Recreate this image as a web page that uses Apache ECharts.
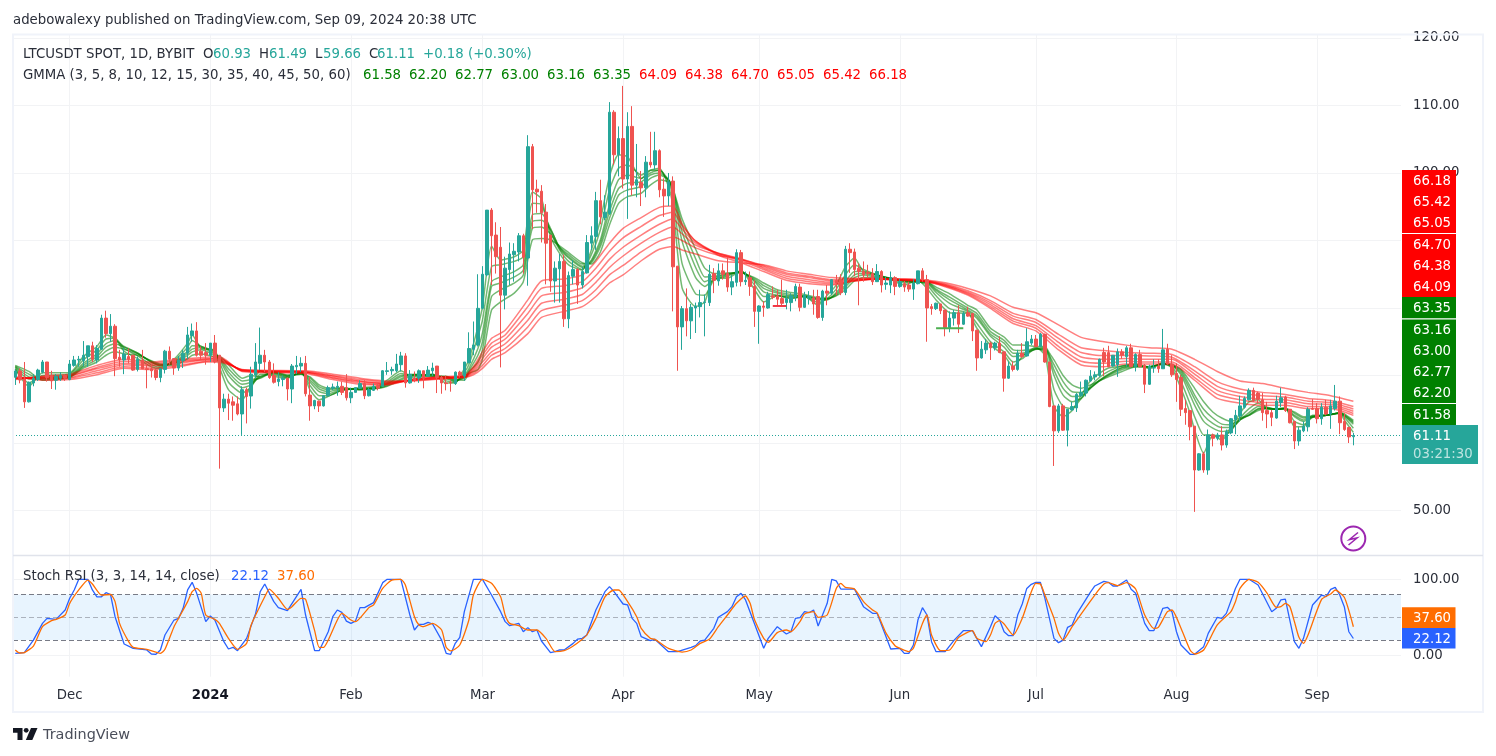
<!DOCTYPE html>
<html>
<head>
<meta charset="utf-8">
<title>LTCUSDT daily with GMMA and Stoch RSI</title>
<script src="https://cdn.jsdelivr.net/npm/echarts@6/dist/echarts.min.js"></script>
<style>
html,body{margin:0;padding:0;background:#fff}
#chart{width:1496px;height:756px}
</style>
</head>
<body>
<div id="chart"></div>
<script>
// Day labels run from 19 Nov 2023; the last traded day is index 295, the rest is empty space on the right.
const dayCount = 306;
const tickDays = [12, 43, 74, 103, 134, 164, 195, 225, 256, 287];
const tickLabels = ['Dec', '2024', 'Feb', 'Mar', 'Apr', 'May', 'Jun', 'Jul', 'Aug', 'Sep'];
const priceTicks = [50, 60, 70, 80, 90, 100, 110, 120];
const stochTicks = [0, 100];

// Daily candles: open, close, low, high
const candles = [
[69.73,70.67,68.6,70.91],[70.67,69.33,68.84,71.06],[69.5,66.1,65.2,72],[66.1,69,66,69.1],[68.9,69.6,68.4,70.2],
[69.4,70.8,69.2,71],[70.5,72,70.3,72.3],[72,69.7,69.1,72],[70,69.2,68,70.7],[69.3,69.9,67.9,70.2],
[69.6,70,69.2,70.5],[70,69.6,69.2,70.2],[69.4,71.7,69.3,72.3],[71.5,72.3,71.3,72.9],[72.3,72.4,71.3,72.9],
[72.2,73,71.3,75.1],[72.8,74.4,71.3,74.4],[74.4,72.4,72,75],[72.3,74,71.8,74.5],[73.9,78.5,73.8,79],
[78.5,76.2,75.6,79.6],[76.2,77.3,75,79.1],[77.3,72.5,69.9,77.6],[72.7,72.3,71.3,73.8],[72.3,73.2,70.2,74.1],
[72.8,72.4,71.8,74],[73,70.8,70.7,73],[70.9,72.4,70.6,72.8],[72.3,71,71,73.8],[71,70.9,68.1,71.8],
[71,70.7,69.7,71.8],[70.8,69.7,69.3,71],[69.7,71,69,71],[70.9,73.6,70.3,73.8],[73.6,72.4,71.6,74.3],
[72.5,71.1,70.1,72.5],[71.1,72.3,70.7,72.9],[72.2,73.3,71.1,73.8],[73.3,76,72.4,77.2],[75.9,76.6,75,77.7],
[76.6,73,72.8,77.9],[73.6,73,72.4,74.3],[73.4,73,71.6,74.8],[73,74.8,72,74.8],[74.8,72,71.8,76],
[73,65.2,56.2,73],[65.2,66.5,64.6,67.3],[66.5,65.9,63.4,67.3],[66.1,65.6,63.3,66.9],[65.8,64.3,64.1,66.9],
[64.3,67.9,61.2,68.4],[67.9,66.9,62.9,68.2],[66.96,70.2,65.1,71.3],[70.07,72,69.6,74.8],[71.8,73,70.8,77.1],
[73,72,70.5,73.8],[72,69.7,69.5,72.3],[70,69,68.8,71.8],[69.1,69.5,68.4,70.5],[69.4,69.6,68.4,70],
[69.6,68,66.3,69.7],[68,71.4,65.9,71.7],[71.3,71.5,70.2,72.9],[71.4,71.8,70.5,72.7],[71.8,67.3,66.9,72.9],
[67.1,65.5,63.3,69.8],[65.5,66.3,65,66.4],[66.2,65.5,64.6,66.3],[65.5,67,65.4,67.1],[67,68.2,66.9,68.5],
[68.1,68.3,67.8,68.8],[68.2,68.4,67,69.1],[68.4,67.5,67.1,69.1],[68.2,66.7,66.3,70.2],[66.7,67.5,65.9,68.2],
[67.5,68.2,67.5,68.2],[68.1,68.8,68,69.3],[68.8,67,66.5,69.3],[67,67.9,66.9,68.2],[67.8,68.4,67.7,68.8],
[68.5,68.1,67.8,68.9],[68.4,70.7,68.3,70.8],[70.6,70.7,70.1,72],[70.7,70.9,70.1,71.3],[70.7,71.7,70.5,73.2],
[71.6,72.9,70.6,73.5],[72.9,68.9,68.2,73.3],[68.9,70.2,68.8,70.8],[69.6,69.3,69,70.6],[69.6,70.7,68.9,70.9],
[70.7,69.6,68.1,70.7],[69.9,70.8,69.8,71.4],[70.7,71.1,69.9,71.9],[71.4,69.7,67.4,71.4],[69.7,68.9,67.3,70],
[68.9,68.8,67.8,70],[69,68.9,67.6,69.3],[68.8,70.5,68.6,70.6],[70.5,70,69.7,70.7],[69.9,72,69.2,72],
[71.9,74,71.8,76.4],[73.9,74.5,73,78],[74.5,79.95,74.3,85],[79.95,85,79.8,86.2],[84.9,94.5,84.7,94.5],
[94.5,90.7,83.4,94.8],[90.8,87.6,85.1,92.7],[89,81.9,71.2,92],[81.9,85.9,79.8,87.6],[85.7,88,83.4,89.7],
[87.9,88.4,83.9,89.6],[88.3,90.7,86.9,91.1],[90.7,87.5,85.1,91],[87.4,103.9,83.3,105.6],[103.9,97.5,91.7,104.3],
[97.6,97.2,94.1,99],[97.3,94.1,89.7,98.2],[94.2,89.6,83.5,95.4],[90.8,84,82.4,90.8],[84,85.9,80.8,86.9],
[85.8,86.9,80.8,88],[86.9,78.4,77.2,87.9],[78.4,84.8,77,85.4],[84.7,85.7,83.5,87.1],[85.7,83.4,80.6,85.9],
[83.4,85.4,82.9,86.1],[85.2,89.7,85.1,90.8],[89.6,90.7,88.6,92.1],[90.6,95.9,88.6,97.2],[95.9,93.5,92.4,99],
[93.4,94.2,93,96.7],[94,109,93.8,110.5],[109,102.7,101.2,109.3],[102.7,105.1,99.5,106.9],[105.1,99.1,97.7,112.9],
[99.1,106.9,93.2,109],[106.9,98.2,96.7,109.9],[98.2,99,96.4,104.3],[98.6,97.8,95.1,100.3],[97.8,101.6,96.4,102.5],
[101.6,101.2,100.8,106.1],[101.2,103.3,100.5,106.1],[103.3,97.5,96.4,103.5],[97.6,96.6,93.5,99.2],[96.6,98.7,95.1,100],
[98.8,86.1,79.5,99.5],[86.2,77.2,70.7,86.2],[77.2,79.9,73.8,80.3],[79.9,78.1,75.8,82.9],[78.1,80.1,75.4,80.6],
[80,80.3,76.3,80.8],[80.2,80.8,78.6,82.7],[80.8,80.9,75.8,82],[80.8,85,80.3,86.4],[85.1,84.1,82.2,85.9],
[84,85.5,83.3,86.6],[85.5,85,84.2,86.6],[85.1,83.1,82.4,87.6],[83.1,83.9,81.9,84.9],[83.8,88.2,83.2,88.7],
[88.2,83.9,83.2,88.6],[83.9,84.1,83.4,85.4],[84.5,83.2,81.8,85.4],[83.2,79.5,77.2,84.1],[79.5,80.3,74.7,80.4],
[80.3,80.1,78.7,81],[80,82,79.9,82.4],[81.8,81.6,81.3,83.2],[81.8,81.3,80.4,82.7],[81.4,80.7,80.3,84.2],
[80.8,81.4,79.8,82.7],[80.8,81.8,79.5,82.2],[81.7,83.2,81,83.6],[83.1,80.1,79.5,83.6],[80.1,81.9,80,82.4],
[81.5,81.7,80.5,82.5],[81.5,80.6,79,82.7],[81.7,78.6,78.4,82.7],[78.6,82.5,78.1,82.7],[82.5,82.2,80.4,83.4],
[82.2,84.2,81.9,84.3],[84.1,83.7,81.9,84.9],[84.1,82.3,81.9,85],[82.3,88.7,81.9,89.2],[88.7,88.2,85.2,89.6],
[88.3,85.7,84.7,88.8],[85.9,85.4,80.4,86.6],[85.4,84.9,83.9,86.9],[85.3,85.1,84.5,86.4],[85.1,83.9,83.4,85.9],
[83.9,85.4,83.9,86.5],[85.4,83.4,82.3,85.6],[83.5,83.7,82.7,84.6],[83.4,84.5,82.2,85.4],[84.5,83.2,81.9,84.7],
[83.2,83.9,83,84.3],[83.6,83.1,82.4,84],[83.4,82.8,82.4,83.9],[82.8,83.7,81.2,84.3],[83.6,85.5,83.5,85.5],
[85.5,84.2,83.9,85.9],[84.2,80,75,84.9],[80.2,79.9,79,80.6],[79.9,80.7,79.7,80.8],[80.6,79.6,79.1,80.6],
[79.7,77.1,75.8,79.7],[77.1,78.5,76.4,79.5],[78.5,79.3,77.4,79.7],[79.3,77.6,76.3,80.4],[77.6,79.2,77.5,79.5],
[79.3,78.8,78.7,80.2],[79.2,76.6,75.1,79.2],[76.7,72.6,70.7,76.8],[72.6,73.9,72.5,75.1],[73.8,74.8,73.2,75.4],
[74.8,74.1,72.3,75],[74.1,74.8,73.7,75],[74.8,73.4,73.3,75.8],[73.5,69.6,67.6,73.5],[69.6,71.4,69.5,72.1],
[71.4,70.9,70.6,72.1],[70.9,73.3,70.7,73.8],[73.3,72.8,72.6,74.8],[72.9,75,72.8,77],[74.8,75.4,74.5,76],
[75.4,74.3,74.2,76],[74.3,76.1,74.2,76.3],[76.1,72,71.9,76.2],[72,65.4,65.3,72],[65.5,61.8,56.6,65.5],
[61.8,65.5,61.5,65.8],[65.5,61.9,61.8,65.8],[61.9,65,59.5,65],[64.9,65.4,64.8,66.1],[65.2,67.2,64.6,67.4],
[67,67.5,66.9,69.1],[67.4,69.3,66.9,69.4],[69.2,69.9,69.1,70.8],[69.8,70.1,69.3,70.6],[70,72.4,69.8,72.5],
[73.4,72,69.9,74.1],[73.4,71.3,71.2,74.4],[71.4,73,71.3,73],[71.6,73.5,69.8,74],[73.5,73,72.5,73.9],
[72.8,74.1,71.3,74.4],[74.1,71.3,71.2,74.7],[71.3,73.1,70.6,73.3],[73.1,71.3,71.2,73.8],[71.5,68.7,67.4,71.7],
[68.7,71.4,68.6,71.6],[71.1,71.2,70.4,72.4],[71.4,71,70.4,72.4],[71,73.8,71,76.9],[73.9,71.7,71.6,74.7],
[71.7,70.1,69.8,73],[70.3,69.4,66.1,71.8],[69.7,65,64,70.1],[65.1,64.5,62.7,66.4],[64.8,62.4,60.4,64.8],
[62.5,56,49.8,62.5],[56,58.4,55.9,58.5],[58.4,56,55.6,58.7],[56,61.2,55.3,62],[61.2,60.7,59.5,61.4],
[60.7,61.2,60.4,61.5],[61.2,59.7,58.9,62.5],[59.7,61.7,59.3,62],[61.5,63.6,61.3,63.7],[63.5,64.1,61.3,64.9],
[64,65.5,63.2,67],[65.3,66.6,65.1,66.9],[66.4,67.8,66.3,68.1],[67.8,66.3,66.1,68.2],[67.4,66.5,65.8,67.6],
[66.4,64.5,63.3,67.4],[64.8,64.3,62.2,66.1],[64.5,63.8,62.5,64.9],[63.7,66.2,63.6,67],[66,66.7,65.3,68.2],
[66.8,64.8,64.6,67],[65,63,62.9,65],[63.2,60.3,59.1,63.2],[60.3,61.9,59.6,62.4],[61.8,62.5,61.6,63.2],
[62.4,65,61.7,65.3],[65.1,65,64.9,66.5],[65.1,63.6,62.9,65.9],[63.6,65.3,62.7,65.9],[65.3,64.3,64.1,66.4],
[64.3,65.5,62.1,66.4],[65.1,66.2,64.8,68.6],[66.2,63,61.3,66.9],[63.2,62,61.8,64.4],[62.3,60.9,60,62.4],
[60.93,61.11,59.66,61.49]
];

// Guppy fast bundle, read at the days listed in fastDays
const fastDays = [0,3,6,12,15,18,20,22,24,27,30,32,35,38,39,41,44,45,47,50,52,54,57,60,63,65,67,69,72,76,80,82,85,88,92,95,97,99,100,102,103,105,107,110,112,114,116,118,120,122,125,127,129,131,133,135,138,140,142,144,145,147,150,152,154,157,160,163,165,168,171,174,177,179,181,183,185,187,190,193,196,199,201,203,206,210,212,215,218,220,222,225,227,228,229,231,233,235,237,239,241,244,247,250,253,255,257,259,260,262,264,266,268,270,272,274,276,278,280,282,284,286,289,292,293,295];
const ema3 = [70.9,68.4,70.4,70.4,72.8,74.3,76,75.5,73.6,72.5,71.3,71,72.4,74.8,76,74,73.8,71.3,67.9,66.4,68.4,70.7,69.9,69.6,70.6,67.85,66.4,66.9,67.8,68.2,68.4,69.3,70.7,69.6,70.2,68.9,68.9,71,72.3,77.2,80.2,89.2,87.1,87.6,88.6,97.2,96.2,90.6,88.1,86.4,85.6,88.6,93,99.5,102.7,102.4,99.2,100.4,100.7,98,95,83,80.2,80.9,84.4,84.4,85.5,82.7,80.9,81.8,81.4,81.7,80.4,81.9,83.4,86.1,87.4,85.4,84.9,84.2,83.4,84.1,82.9,81.2,79.3,79.2,77,74.5,73,71.3,72.8,74.2,73,69.3,65.4,63.9,64.8,67.1,69.2,70.3,71.1,71.4,71.7,71,71.9,71.06,68.1,64.4,61.9,58.5,61.2,60.4,62.2,64.4,66.1,66.4,65,65,65.3,62.4,62.4,64.1,64.1,64.4,63.4,61.58];
const ema5 = [71,68.9,70,70.2,72.3,73.8,75.4,75.5,74,72.9,71.6,71.2,72.2,74.2,75.2,74.3,73.6,72,69,67.4,68.3,70.2,70.1,69.7,70.5,68.5,67,67,67.8,68.1,68.3,69,70.3,69.9,70.2,69.2,69,70.5,71.6,75.8,78.2,86.1,86.4,86.9,87.6,95.5,95.3,91.3,88.6,86.9,85.7,87.9,91.6,97.5,100.7,101.2,99.7,100.4,100.4,98.7,96.5,86.6,82.1,81.9,84.1,84.7,85.5,83.4,81.7,81.8,81.5,81.7,80.8,81.4,82.8,84.9,86.4,85.7,84.9,84.3,83.7,83.9,83.4,81.8,79.9,79.3,77.7,75,73.5,72,72.5,74,73.5,71.1,67.9,65.4,65.1,66.6,68.4,69.7,70.6,71.4,71.6,71.2,71.7,71.3,69.1,65.8,63.9,61.2,61.2,60.9,61.8,63.7,65.1,65.9,65.3,65,65.1,63.2,62.7,63.8,64.1,64.4,63.8,62.20];
const ema8 = [71.2,69.5,69.7,70,71.8,73.2,74.7,75.2,74.3,73.3,72,71.4,72,73.6,74.4,74.3,73.4,72.4,70,68.2,68.6,69.9,70.3,69.8,70.4,69,67.6,67.3,67.9,68,68.2,68.8,70,70.1,70.1,69.5,69.1,70.1,71,74,76.3,83.9,84.6,85.4,86.4,93.8,94,91.8,88.8,87.4,86,87.1,90.1,95.3,99,99.7,99.2,100,100.4,99,97.2,89.9,84.5,83.2,84.2,84.9,85.4,83.9,82.4,81.9,81.7,81.7,81.2,81.2,82.3,83.9,85.4,85.4,84.9,84.4,83.9,83.9,83.7,82.3,80.7,79.5,78.5,75.8,74.2,72.8,73,73.9,73.9,72.3,70,67.1,66.1,66.6,68.1,69.3,70.2,71.2,71.5,71.3,71.7,71.5,70.1,67.1,65.6,63.2,62.2,61.7,62,63.4,64.5,65.4,65.2,65,65.1,63.9,63.2,63.8,64.1,64.4,64,62.77];
const ema10 = [71.3,69.8,69.6,69.9,71.5,72.8,74.2,74.7,74.2,73.3,72,71.5,71.8,73.3,73.9,74.1,73.2,72.6,70.5,68.7,69,69.7,70.4,69.9,70.3,69.3,68,67.6,68,68,68.2,68.7,69.8,70.2,70,69.7,69.2,69.8,70.7,73,75,83.2,83.7,84.6,85.6,92.8,93,91.6,89,87.6,86.2,86.9,89.6,94.3,97.7,98.5,98.7,99.7,100,99,97.5,91.3,86,83.9,84.5,85,85.3,84.1,82.9,82.2,81.8,81.8,81.3,81.3,82.1,83.4,84.9,85.1,84.8,84.4,84,83.9,83.8,82.6,81.2,79.7,78.8,76.1,74.8,73.3,73.3,73.9,74,72.8,70.8,68.1,66.9,67,68.1,69.2,70.1,71.1,71.4,71.3,71.7,71.55,70.4,67.85,66.5,64.1,62.9,62.3,62.3,63.4,64.2,65.1,65.2,65,65.1,64.1,63.4,63.9,64.1,64.5,64.1,63.00];
const ema12 = [71.4,70.2,69.4,69.8,71.3,72.4,73.6,74.2,73.9,73.2,72.1,71.6,71.7,73,73.5,73.8,73,72.7,71,69.2,69.4,69.6,70.5,70,70.2,69.6,68.3,67.9,68.1,67.9,68.1,68.5,69.5,70.1,69.9,69.8,69.3,69.6,70.5,72,73.8,81.7,82.7,83.7,84.9,91.8,92,91,89,87.9,86.5,86.7,89.1,93.3,96.7,97.5,98,99.2,99.7,99,97.7,92.3,87.3,84.6,84.7,85.1,85.3,84.3,83.3,82.4,82,81.8,81.4,81.4,81.9,83.1,84.5,84.9,84.6,84.4,84,83.9,83.9,82.8,81.6,80,79.2,76.5,75.2,73.8,73.7,74,74.2,73,71.6,69.1,67.6,67.5,68.2,69.2,70,70.9,71.3,71.3,71.7,71.55,70.7,68.4,67.1,65,63.7,62.8,62.7,63.5,64.1,65,65.1,65,65.1,64.4,63.7,63.9,64.1,64.5,64.2,63.16];
const ema15 = [71.5,70.6,69.3,69.7,71.1,72,73,73.5,73.2,73,72.2,71.7,71.5,72.5,73,73.2,72.8,72.8,71.6,69.6,70,69.8,70.6,70.07,70.2,69.8,68.6,68.1,68.2,67.9,68.1,68.4,69.3,70,69.85,69.9,69.4,69.3,70.3,70.9,72.4,79.7,80.9,82.2,83.9,90.1,90.3,90.1,89.2,88.2,86.7,86.5,88.3,92.3,95.5,96.5,97,98.2,99,98.7,97.7,93.2,88.7,85.9,85.1,85.2,85.2,84.5,83.7,82.7,82.3,82,81.5,81.4,81.8,82.7,84,84.5,84.5,84.4,84.1,84,83.9,83.1,82.1,80.4,79.7,77,75.7,74.5,74.5,74.3,74.3,73.3,72.3,70,68.6,68.1,68.6,69.2,69.8,70.6,71.3,71.3,71.65,71.55,70.9,69.1,68.1,66.1,64.6,63.7,63.2,63.7,64.1,64.8,65.1,65,65.1,64.6,63.9,64,64.1,64.5,64.3,63.35];

// Guppy slow bundle, read at the days listed in slowDays
const slowDays = [0,6,12,18,24,30,36,42,45,50,64,70,76,82,88,94,99,101,103,105,108,113,116,121,125,128,131,134,138,142,145,147,150,155,160,165,170,175,180,185,190,195,200,205,210,215,220,225,230,235,240,245,250,255,260,265,270,275,280,285,290,295];
const ema30 = [69.4,69.9,70.2,71.5,72.4,72,72.4,72.7,72.8,70.6,70.3,69.4,68.7,68.6,69.5,69.83,70,71.3,73.5,75.5,76.7,81.2,84,84.3,84.9,86.9,89.6,91.8,93.4,94.9,95.1,92.5,89.9,87.8,86.7,85.4,84.1,83.6,83.4,84,84.3,84.1,84,83.16,81.9,79.95,77.7,76.6,73.8,71.55,71.3,71.7,71.7,71.7,69.3,66.6,65.9,65.6,65.6,65.1,65.1,64.09];
const ema35 = [69.5,69.8,70,71.2,72.1,71.8,72.2,72.5,72.6,70.7,70.4,69.6,68.9,68.7,69.45,69.75,69.9,71.05,73,74.8,76,80.2,82.9,83.3,83.9,85.9,88.4,90.4,92.1,93.7,94.2,92.2,89.9,88,87,85.7,84.4,83.9,83.6,84,84.3,84.1,84,83.25,82.05,80.2,78.05,77,74.3,72.1,71.8,72.1,72,72,69.7,67.2,66.4,66,66,65.4,65.4,64.38];
const ema40 = [69.55,69.7,69.9,71,71.8,71.6,72,72.4,72.5,70.7,70.5,69.7,69.1,68.8,69.4,69.7,69.85,70.8,72.5,74.2,75.4,79.2,81.8,82.3,83,84.8,87.2,89,90.8,92.4,93.2,91.7,89.6,88.1,87.2,85.9,84.7,84.2,83.8,84.1,84.3,84.2,84,83.35,82.2,80.5,78.4,77.4,74.9,72.75,72.4,72.5,72.4,72.4,70.2,67.8,66.9,66.5,66.4,65.8,65.7,64.70];
const ema45 = [69.6,69.6,69.7,70.7,71.6,71.4,71.8,72.3,72.3,70.8,70.5,69.9,69.2,68.9,69.35,69.6,69.8,70.55,72,73.5,74.7,78.2,80.7,81.3,82,83.8,86,87.7,89.6,91.2,92,91,89.3,88.1,87.3,86.1,85,84.5,84,84.2,84.3,84.2,84.1,83.45,82.35,80.8,78.8,77.85,75.5,73.4,72.95,73,72.9,72.7,70.7,68.4,67.4,67,66.8,66.2,66,65.05];
const ema50 = [69.7,69.5,69.6,70.4,71.3,71.1,71.5,72.1,72.2,70.85,70.6,70,69.4,69.05,69.3,69.55,69.75,70.3,71.5,73,74,77.2,79.6,80.4,81.1,82.7,84.9,86.3,88.3,89.9,90.5,90,88.9,87.8,87.2,86.3,85.2,84.7,84.2,84.3,84.3,84.3,84.1,83.55,82.55,81.1,79.2,78.3,76.1,74.1,73.7,73.4,73.3,73.1,71.3,69.1,68,67.5,67.2,66.6,66.3,65.42];
const ema60 = [69.8,69.3,69.4,70.1,71.06,70.9,71.3,72,72,70.9,70.7,70.2,69.6,69.2,69.2,69.5,69.7,70.1,71.06,72.4,73.4,76.2,78.6,79.5,80.2,81.7,83.7,84.9,87,88.7,89.1,88.6,88,87,86.7,86.4,85.5,85,84.5,84.4,84.4,84.3,84.2,83.75,82.9,81.8,80.1,79.3,77.5,75.65,75,74.5,74.1,73.9,72.4,70.6,69.2,68.8,68.1,67.5,67,66.18];

// Stoch RSI %K and %D, read at their turning days
const stochKDays = [0,2,4,6,7,9,11,12,13,14,16,17,18,19,20,21,22,24,26,29,30,31,32,33,35,36,37,38,39,40,42,43,44,46,47,48,49,51,53,54,55,57,58,60,63,64,66,67,69,70,71,72,73,74,75,76,77,79,81,82,85,87,88,89,90,91,92,94,95,96,97,98,99,101,103,105,107,108,109,111,112,113,114,115,116,118,119,120,121,123,124,125,126,128,130,131,132,134,135,136,137,138,140,141,144,146,149,150,151,152,154,155,157,158,159,160,161,165,166,168,170,171,172,173,174,175,176,177,179,180,181,182,185,187,189,190,193,195,196,197,198,199,200,201,202,203,205,207,209,211,213,215,216,217,218,219,220,221,222,223,224,225,226,227,229,230,231,232,233,234,237,238,240,241,242,243,245,246,247,249,250,251,252,253,254,255,256,257,259,260,262,263,265,266,267,269,270,272,274,277,278,279,280,282,283,284,286,288,289,290,291,292,293,294,295];
const stochK = [2.6,3.5,20,42,48.6,47.3,59.6,75,86,100,100,86,77,77,82.4,80,50.8,14.9,9.2,7,1.7,1.3,7,26.7,46.4,48.6,61.8,86,96,81.5,44.3,51.7,46.4,17.9,8.3,10.5,6.1,22.3,55.2,83.7,93.8,70.6,62.7,58.7,86.8,53,6.1,6.1,31,50.8,59.6,56.5,45,42,45,62.7,62.7,69.3,95.6,100,100,53,33.3,40.7,40.7,43.4,41.2,20,2.6,1.3,15.7,23.6,57.4,100,100,79.3,57.4,44.3,39,42,31,36.4,31,33.3,18.8,3.5,4.8,7,7,15.7,21.4,22.3,26.7,59.6,83.7,90.3,83.7,67.5,66.2,48.6,42,24.5,19.3,21,4.8,4.8,10.5,12.7,18.8,20,35.5,50,57.4,64,77,81.5,72.8,9.2,22.3,37.7,28,31,48.6,49.5,57.4,56,59.6,38.6,68.4,100,98,87.2,87.2,64,55.2,55.2,8.3,9.2,2.6,2.6,13.5,46.4,62.7,53,17.9,4.8,4.8,20,32.4,32.4,11.4,37.7,52,46.4,31,25.8,25.8,53,67.5,88,93.4,96,96,75,22.3,16.6,20,36.8,39.9,54.3,82.9,91.2,97.3,96,91.2,91.2,99,86.8,81.5,42,32.4,32.4,46.4,61.8,63.1,57.4,31,13.6,1.3,1.3,11.4,28.9,50,48.6,55.2,88,100,100,92.5,57.4,61.8,72.8,74,18,9.2,22.3,66.2,79.3,77.1,86.8,89.4,79.3,64,31,22.12];
const stochDDays = [0,1,2,4,6,8,9,11,12,14,16,17,19,21,22,23,25,26,29,32,33,35,36,38,39,40,41,42,44,45,47,49,51,52,55,56,58,60,61,63,64,66,67,68,69,71,72,74,75,78,79,81,83,85,86,88,89,90,92,94,95,96,98,100,101,103,105,107,108,109,111,113,115,117,119,121,123,125,126,128,130,132,133,135,137,138,140,141,144,147,149,151,153,155,157,159,161,162,163,165,166,168,170,171,173,174,176,177,179,181,182,183,185,187,189,190,192,194,195,197,198,200,201,202,204,206,208,211,212,214,215,216,217,218,220,222,224,225,226,227,229,230,231,233,238,240,241,243,245,247,249,251,252,254,255,257,259,260,262,265,268,269,270,272,274,276,278,279,280,281,282,283,284,285,288,290,291,293,295];
const stochD = [7,3,3.5,12.2,37.7,45.6,47.3,53,68.4,86,99,93.8,79.3,80,70.6,42,17.9,10.5,7.9,2.6,7.9,37.7,48.6,70.6,83.7,88,81.5,53,47.3,42,22.3,7.9,15.7,39.9,77,87.2,75,60.5,64,75,73.6,32.4,10.5,10.5,20,46.4,55.2,46.4,44.3,63,66.2,88,99,100,92.5,50.8,39.9,37.7,42,33.3,10.5,5.7,13.5,46.4,79.3,100,94.7,77,53,42,39,33.3,33.3,22.3,4.8,6.1,12.2,21,26.7,48.6,77,85.9,85.9,70.6,50.8,35.5,22.3,21,9.2,4.3,7,15.7,21,37.7,53,68.4,78,68.4,46.4,22.3,17,29.8,33.3,31,44.3,54.3,57.4,50,53,88,94.7,89.4,87.2,70.6,59.6,56,28.9,12.2,9.2,4.8,9.2,42,53,26.7,6.1,7,23.6,32.4,22.3,17.9,26.7,42,45.6,41.2,26.7,48.6,83.7,94.7,93.8,79.3,48.6,28.9,20,37.7,79.3,93.8,95.6,91.6,95.6,87.2,53,35.5,36.8,57.4,59.6,35.5,7,1.7,7,39.9,57.4,70.6,88,100,96,81.5,63.1,64,68.4,64,44.3,23.6,15.7,26.7,73.6,80.7,85.9,76.3,37.60];

// Hand-drawn level segments on the price pane
const redLevelDays = [167, 170];
const redLevel = [80.3, 80.3];
const greenLevelDays = [203, 209];
const greenLevel = [77, 77];

// Header and price tag readouts
const lastOHLC = ['60.93', '61.49', '59.66', '61.11'];
const lastChange = '+0.18 (+0.30%)';
const gmmaReadout = ['61.58','62.20','62.77','63.00','63.16','63.35','64.09','64.38','64.70','65.05','65.42','66.18'];
const lastClose = 61.11;
const countdown = '03:21:30';
const stochReadout = ['22.12', '37.60'];

const FONT = '"DejaVu Sans", sans-serif';
const FONT_SIZE = 13.3;
const INK = '#2a2e39';
const TEAL = '#26a69a';
const RED = '#ef5350';
const GREEN_TAG = '#008000';
const RED_TAG = '#ff0000';
const GRID_LINE = '#f2f3f5';

const days = [];
{
  const d = new Date(Date.UTC(2023, 10, 19));
  for (let i = 0; i < dayCount; i++) {
    days.push(d.toISOString().slice(0, 10));
    d.setUTCDate(d.getUTCDate() + 1);
  }
}
const isTick = (i) => tickDays.includes(i);
const pairs = (xs, ys) => xs.map((x, i) => [x, ys[i]]);

const bundleLine = (name, xs, ys, color) => ({
  name, type: 'line', xAxisIndex: 0, yAxisIndex: 0, data: pairs(xs, ys),
  showSymbol: false, symbol: 'none', silent: true, smooth: 0.2, z: 3,
  lineStyle: { color, width: 1.5 }
});
const FAST = 'rgba(0,128,0,0.55)';
const SLOW = 'rgba(255,0,0,0.5)';

const series = [
  bundleLine('EMA3', fastDays, ema3, FAST),
  bundleLine('EMA5', fastDays, ema5, FAST),
  bundleLine('EMA8', fastDays, ema8, FAST),
  bundleLine('EMA10', fastDays, ema10, FAST),
  bundleLine('EMA12', fastDays, ema12, FAST),
  bundleLine('EMA15', fastDays, ema15, FAST),
  bundleLine('EMA30', slowDays, ema30, SLOW),
  bundleLine('EMA35', slowDays, ema35, SLOW),
  bundleLine('EMA40', slowDays, ema40, SLOW),
  bundleLine('EMA45', slowDays, ema45, SLOW),
  bundleLine('EMA50', slowDays, ema50, SLOW),
  bundleLine('EMA60', slowDays, ema60, SLOW),
  {
    name: 'LTCUSDT', type: 'candlestick', xAxisIndex: 0, yAxisIndex: 0, data: candles,
    barWidth: 3, silent: true, z: 5,
    itemStyle: { color: TEAL, color0: RED, borderColor: TEAL, borderColor0: RED, borderColorDoji: TEAL, borderWidth: 1 },
    markLine: {
      silent: true, symbol: 'none', animation: false, label: { show: false }, z: 2,
      lineStyle: { color: TEAL, type: [1, 2], width: 1, opacity: 1 },
      data: [{ yAxis: lastClose }]
    }
  },
  {
    name: 'Red level', type: 'line', xAxisIndex: 0, yAxisIndex: 0, data: pairs(redLevelDays, redLevel),
    symbol: 'none', silent: true, z: 6, lineStyle: { color: '#f23645', width: 2 }
  },
  {
    name: 'Green level', type: 'line', xAxisIndex: 0, yAxisIndex: 0, data: pairs(greenLevelDays, greenLevel),
    symbol: 'none', silent: true, z: 6, lineStyle: { color: '#4caf50', width: 2 }
  },
  {
    name: '%K', type: 'line', xAxisIndex: 1, yAxisIndex: 1, data: pairs(stochKDays, stochK),
    symbol: 'none', silent: true, z: 4, lineStyle: { color: '#2962ff', width: 1.3 },
    markArea: {
      silent: true, animation: false, z: 1,
      itemStyle: { color: 'rgba(33,150,243,0.1)' },
      data: [[{ yAxis: 20 }, { yAxis: 80 }]]
    },
    markLine: {
      silent: true, symbol: 'none', animation: false, label: { show: false }, z: 2,
      lineStyle: { color: '#787b86', type: [5, 3], width: 1 },
      data: [
        { yAxis: 80 },
        { yAxis: 50, lineStyle: { color: 'rgba(120,123,134,0.55)', type: [5, 3], width: 1 } },
        { yAxis: 20 }
      ]
    }
  },
  {
    name: '%D', type: 'line', xAxisIndex: 1, yAxisIndex: 1, data: pairs(stochDDays, stochD),
    symbol: 'none', silent: true, z: 5, smooth: 0.2, lineStyle: { color: '#ff6d00', width: 1.3 }
  }
];

// Text and chrome placed around the panes
const text = (x, y, str, fill, size, weight, z) => ({
  type: 'text', silent: true, z: z || 20,
  style: { x, y: y + 1, text: str, fill, font: `${weight || 'normal'} ${size || FONT_SIZE}px ${FONT}`, textVerticalAlign: 'middle', textAlign: 'left' }
});
const box = (x, y, w, h, fill, z) => ({
  type: 'rect', silent: true, z: z || 30, shape: { x, y, width: w, height: h }, style: { fill }
});

const readoutX = [363, 409, 455, 501, 547, 593, 639, 685, 731, 777, 823, 869];
const tagCenters = [414.5, 393, 371.5, 350.5, 329.5, 307.5, 287, 266, 245, 223, 202, 181];

const graphics = [
  { type: 'rect', silent: true, z: 10, shape: { x: 13, y: 34.5, width: 1470, height: 677.5 }, style: { fill: 'none', stroke: '#f0f3fa', lineWidth: 2 } },
  { type: 'line', silent: true, z: 10, shape: { x1: 13, y1: 555.5, x2: 1483, y2: 555.5 }, style: { stroke: '#e0e3eb', lineWidth: 1.5 } },

  text(13, 20, 'adebowalexy published on TradingView.com, Sep 09, 2024 20:38 UTC', INK),
  text(23, 54, 'LTCUSDT SPOT, 1D, BYBIT', INK),
  text(203, 54, 'O', INK), text(213, 54, lastOHLC[0], TEAL),
  text(259, 54, 'H', INK), text(269, 54, lastOHLC[1], TEAL),
  text(315, 54, 'L', INK), text(323, 54, lastOHLC[2], TEAL),
  text(369, 54, 'C', INK), text(377, 54, lastOHLC[3], TEAL),
  text(423, 54, lastChange, TEAL),
  text(23, 75, 'GMMA (3, 5, 8, 10, 12, 15, 30, 35, 40, 45, 50, 60)', INK),
  ...gmmaReadout.map((v, i) => text(readoutX[i], 75, v, i < 6 ? GREEN_TAG : RED_TAG)),
  text(23, 576, 'Stoch RSI (3, 3, 14, 14, close)', INK),
  text(231, 576, stochReadout[0], '#2962ff'),
  text(277, 576, stochReadout[1], '#ff6d00'),

  // price tags stacked on the right axis
  box(1402, 170, 54, 63, RED_TAG), box(1402, 234, 54, 63, RED_TAG),
  box(1402, 297, 54, 21.3, GREEN_TAG), box(1402, 319.5, 54, 83.5, GREEN_TAG), box(1402, 404, 54, 21, GREEN_TAG),
  box(1402, 425, 76, 39, TEAL),
  ...gmmaReadout.map((v, i) => text(1413, tagCenters[i], v, '#ffffff', FONT_SIZE, 'normal', 31)),
  text(1413, 435.5, String(lastClose.toFixed(2)), '#ffffff', FONT_SIZE, 'normal', 31),
  text(1413, 454, countdown, 'rgba(255,255,255,0.7)', FONT_SIZE, 'normal', 31),
  box(1402, 607.3, 53.5, 20.7, '#ff6d00'), box(1402, 628, 53.5, 20.5, '#2962ff'),
  text(1413, 617.5, stochReadout[1], '#ffffff', FONT_SIZE, 'normal', 31),
  text(1413, 638.5, stochReadout[0], '#ffffff', FONT_SIZE, 'normal', 31),

  // flash badge above the oscillator
  { type: 'circle', silent: true, z: 20, shape: { cx: 1353.3, cy: 538.5, r: 12 }, style: { fill: '#fff', stroke: '#9c27b0', lineWidth: 2 } },
  { type: 'polyline', silent: true, z: 21, shape: { points: [[1358, 532.5], [1349.5, 539.5], [1357, 538], [1348.5, 545]] }, style: { fill: 'none', stroke: '#9c27b0', lineWidth: 1.6 } },

  // wordmark at the foot of the page
  { type: 'polygon', silent: true, z: 20, shape: { points: [[13, 728], [22.5, 728], [22.5, 740], [17.5, 740], [17.5, 732.7], [13, 732.7]] }, style: { fill: '#131722' } },
  { type: 'polygon', silent: true, z: 20, shape: { points: [[31, 728], [37.5, 728], [32.3, 740], [25.8, 740]] }, style: { fill: '#131722' } },
  { type: 'circle', silent: true, z: 20, shape: { cx: 26.2, cy: 730.3, r: 2.4 }, style: { fill: '#131722' } },
  text(43, 734, 'TradingView', '#4a4e5a', 14.4)
];

const option = {
  animation: false,
  backgroundColor: '#ffffff',
  textStyle: { fontFamily: FONT },
  grid: [
    { left: 13, right: 95, top: 35, height: 520 },
    { left: 13, right: 95, top: 556, height: 120.7 }
  ],
  xAxis: [0, 1].map((k) => ({
    type: 'category', gridIndex: k, data: days, boundaryGap: true,
    axisLine: { show: false },
    axisTick: { show: false, alignWithLabel: true },
    splitLine: { show: true, alignWithLabel: true, interval: (i) => isTick(i), lineStyle: { color: GRID_LINE, width: 1 } },
    axisLabel: k === 0 ? { show: false } : {
      show: true, margin: 12, interval: (i) => isTick(i), color: INK, fontSize: FONT_SIZE, fontFamily: FONT, hideOverlap: false,
      formatter: (v, i) => {
        const label = tickLabels[tickDays.indexOf(i)];
        return label === '2024' ? `{b|${label}}` : label;
      },
      rich: { b: { fontWeight: 'bold', fontSize: FONT_SIZE, color: '#131722', fontFamily: FONT } }
    }
  })),
  yAxis: [
    {
      type: 'value', gridIndex: 0, position: 'right', min: 43.41, max: 120.44,
      axisLine: { show: false },
      axisTick: { show: false, customValues: priceTicks },
      splitLine: { show: true, lineStyle: { color: GRID_LINE, width: 1 } },
      axisLabel: { show: true, customValues: priceTicks, margin: 12, padding: [2, 0, 0, 0], color: INK, fontSize: FONT_SIZE, fontFamily: FONT, formatter: (v) => v.toFixed(2) }
    },
    {
      type: 'value', gridIndex: 1, position: 'right', min: -28.16, max: 130.66,
      axisLine: { show: false },
      axisTick: { show: false, customValues: stochTicks },
      splitLine: { show: true, lineStyle: { color: GRID_LINE, width: 1 } },
      axisLabel: { show: true, customValues: stochTicks, margin: 12, padding: [2, 0, 0, 0], color: INK, fontSize: FONT_SIZE, fontFamily: FONT, formatter: (v) => v.toFixed(2) }
    }
  ],
  series,
  graphic: { elements: graphics }
};

const chart = echarts.init(document.getElementById('chart'), null, { renderer: 'canvas' });
chart.setOption(option);
</script>
</body>
</html>
